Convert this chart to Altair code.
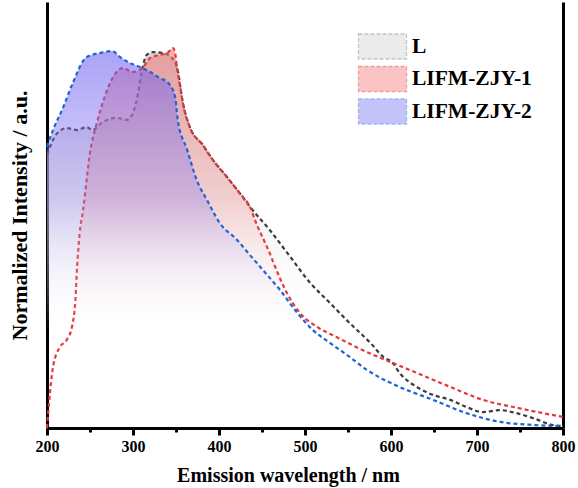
import altair as alt
import pandas as pd

series_names = ["L", "LIFM-ZJY-1", "LIFM-ZJY-2"]

# Normalized emission spectra (wavelength in nm, intensity normalized)
wl_L = [200, 212, 223, 235, 246, 253, 265, 281, 293, 300, 306, 310.5, 316, 323, 334,
        341, 351, 358, 366, 381, 393, 409, 424, 436, 459, 483, 506, 529, 552, 576,
        591, 602, 610, 630, 649, 669, 688, 707, 727, 746, 765, 788, 800]
int_L = [0.72, 0.776, 0.789, 0.784, 0.792, 0.784, 0.805, 0.816, 0.811, 0.829, 0.882,
         0.942, 0.982, 0.989, 0.987, 0.982, 0.950, 0.855, 0.792, 0.745, 0.705, 0.661,
         0.618, 0.582, 0.521, 0.450, 0.382, 0.329, 0.276, 0.224, 0.187, 0.171, 0.145,
         0.108, 0.087, 0.074, 0.055, 0.042, 0.047, 0.039, 0.026, 0.008, 0.005]

wl_1 = [200, 207, 215, 223, 229, 233, 235, 238, 242, 250, 258, 267, 277, 288, 300,
        312, 320, 331, 340, 346.5, 349, 351, 355, 358, 366, 381, 393, 409, 424, 436,
        444, 451, 459, 463, 479, 494, 514, 537, 567, 599, 630, 669, 707, 747, 800]
int_1 = [0.0, 0.161, 0.213, 0.232, 0.266, 0.337, 0.424, 0.513, 0.574, 0.724, 0.803,
         0.871, 0.924, 0.947, 0.937, 0.950, 0.974, 0.982, 0.987, 1.0, 0.987, 0.950,
         0.897, 0.855, 0.792, 0.745, 0.705, 0.661, 0.618, 0.582, 0.535, 0.500, 0.460,
         0.437, 0.355, 0.303, 0.266, 0.239, 0.205, 0.174, 0.145, 0.108, 0.074, 0.053,
         0.029]

wl_2 = [200, 207, 219, 230, 246, 262, 276, 285, 296, 308, 320, 331, 341, 349, 352,
        363, 374, 386, 401, 421, 436, 451, 471, 491, 509, 529, 549, 572, 610, 649,
        688, 727, 765, 800]
int_2 = [0.74, 0.784, 0.845, 0.908, 0.976, 0.987, 0.992, 0.976, 0.961, 0.950, 0.937,
         0.921, 0.908, 0.871, 0.811, 0.732, 0.653, 0.600, 0.539, 0.495, 0.455, 0.416,
         0.363, 0.303, 0.258, 0.224, 0.192, 0.153, 0.108, 0.074, 0.039, 0.016, 0.008,
         0.005]

line_colors = ["#3c3c3c", "#e5383b", "#1f63d4"]
swatch_fill = ["#ebebeb", "#fac4c4", "#c4c4fa"]
swatch_stroke = ["#c4c4c4", "#f19c9c", "#9cb6f1"]

FONT = "Liberation Serif"


def frame(wl, vals, name):
    return pd.DataFrame({"wl": wl, "val": vals, "series": name})


df_L = frame(wl_L, int_L, series_names[0])
df_1 = frame(wl_1, int_1, series_names[1])
df_2 = frame(wl_2, int_2, series_names[2])

x_scale = alt.Scale(domain=[200, 800], nice=False, zero=False)
y_scale = alt.Scale(domain=[0, 1.121], nice=False)

x_axis = alt.Axis(
    values=list(range(200, 801, 50)),
    labelExpr="datum.value % 100 === 0 ? datum.label : ''",
    tickSize={"condition": {"test": "datum.value % 100 === 0", "value": 7}, "value": 4},
    tickWidth=3, tickColor="black", domainWidth=3, domainColor="black",
    labelFont=FONT, labelFontWeight="bold", labelFontSize=16, labelColor="black",
    labelPadding=3, labelFlush=False, grid=False,
    title="Emission wavelength / nm", titleFont=FONT, titleFontWeight="bold",
    titleFontSize=20, titleColor="black", titlePadding=11, titleX=241,
    titleAlign="center",
)
y_axis_left = alt.Axis(
    ticks=False, labels=False, grid=False, domainWidth=3, domainColor="black",
    title="Normalized Intensity / a.u.", titleFont=FONT, titleFontWeight="bold",
    titleFontSize=22, titleColor="black", titlePadding=16,
)
y_axis_right = alt.Axis(
    orient="right", ticks=False, labels=False, grid=False, domainWidth=3,
    domainColor="black", title=None,
)


def gradient(stops):
    return alt.Gradient(
        gradient="linear", x1=0, x2=0, y1=0, y2=1,
        stops=[alt.GradientStop(color=c, offset=o) for o, c in stops],
    )


grad_L = gradient([(0, "rgba(195,195,195,0.7)"), (0.4, "rgba(220,220,220,0.45)"),
                   (0.75, "rgba(255,255,255,0)")])
grad_1 = gradient([(0, "rgba(240,120,120,0.6)"), (0.4, "rgba(245,150,150,0.36)"),
                   (0.75, "rgba(255,255,255,0)")])
grad_2 = gradient([(0, "rgba(105,90,240,0.56)"), (0.4, "rgba(150,130,240,0.36)"),
                   (0.74, "rgba(255,255,255,0)")])


def area(df, grad, axis=None):
    return alt.Chart(df).mark_area(fill=grad, interpolate="monotone").encode(
        x=alt.X("wl:Q", scale=x_scale, axis=x_axis),
        y=alt.Y("val:Q", scale=y_scale, axis=axis),
    )


def line(df, color, axis=None):
    return alt.Chart(df).mark_line(
        stroke=color, strokeDash=[4, 3], strokeWidth=2.2, interpolate="monotone"
    ).encode(
        x=alt.X("wl:Q", scale=x_scale, axis=x_axis),
        y=alt.Y("val:Q", scale=y_scale, axis=axis),
    )


# Wide rectangular swatch: the symbol box is 25 px tall, the path stretches it to 48 px
legend_kw = dict(
    title=None, orient="none", legendX=322, legendY=31, padding=0,
    symbolType="M-1.92,-1H1.92V1H-1.92Z", symbolSize=625, symbolDash=[4, 2],
    symbolStrokeWidth=1.3, symbolOpacity=1, rowPadding=1.5, labelOffset=16,
    labelFont=FONT, labelFontWeight="bold", labelFontSize=21.5, labelColor="black",
)

# Invisible marks that only carry the swatch legend
legend_layer = alt.Chart(pd.DataFrame({"series": series_names})).mark_square(
    opacity=0
).encode(
    fill=alt.Fill("series:N", scale=alt.Scale(domain=series_names, range=swatch_fill),
                  legend=alt.Legend(**legend_kw)),
    stroke=alt.Stroke("series:N", scale=alt.Scale(domain=series_names, range=swatch_stroke),
                      legend=alt.Legend(**legend_kw)),
)

chart = alt.layer(
    area(df_L, grad_L, axis=y_axis_left),
    line(df_L, line_colors[0], axis=y_axis_right),
    area(df_1, grad_1),
    line(df_1, line_colors[1]),
    area(df_2, grad_2),
    line(df_2, line_colors[2]),
    legend_layer,
).resolve_axis(y="independent").properties(
    width=516, height=426,
    autosize=alt.AutoSizeParams(type="none"),
    padding={"left": 47, "top": 2, "right": 15, "bottom": 60},
).configure_view(stroke=None)

chart.save("out.html", embed_options={"renderer": "svg", "actions": False})
